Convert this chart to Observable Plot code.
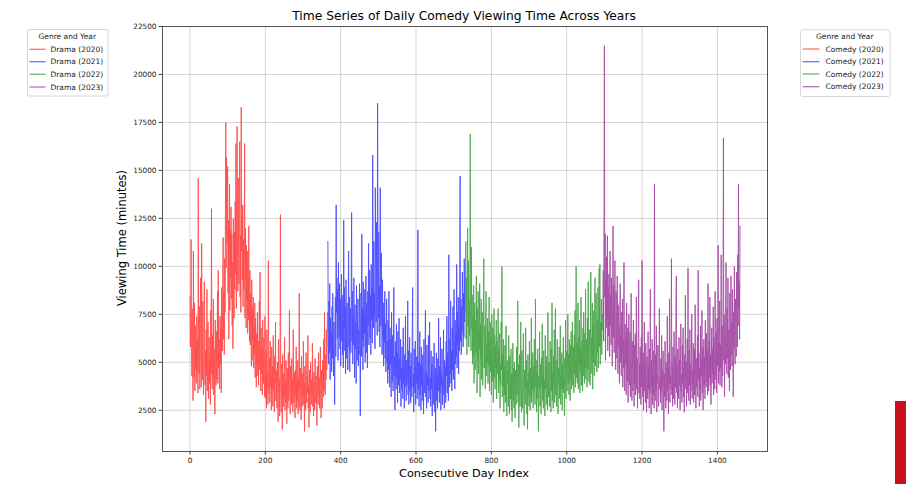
<!DOCTYPE html>
<html>
<head>
<meta charset="utf-8">
<script src="https://cdn.jsdelivr.net/npm/d3@7"></script>
<script src="https://cdn.jsdelivr.net/npm/@observablehq/plot@0.6"></script>
<style>
  body { margin: 0; background: #fff; font-family: "DejaVu Sans", sans-serif; }
  #wrap { position: relative; width: 906px; height: 484px; overflow: hidden; background: #fff; }
  #chart { position: absolute; left: 0; top: 0; }
  #overlay { position: absolute; left: 0; top: 0; pointer-events: none; }
  .t { position: absolute; white-space: nowrap; line-height: 1; color: #000; }
  #badge { position: absolute; left: 895px; top: 401px; width: 11px; height: 83px; background: #c9111e; }
</style>
</head>
<body>
<div id="wrap"></div>
<script>
// Daily viewing time (minutes), one array per year; day index continues across years.
const years = ["2020", "2021", "2022", "2023"];
const yearStart = [0, 366, 731, 1096];
// red, blue, green, purple drawn at 70% over white
const colors = ["#ff4d4d", "#4d4dff", "#4da64d", "#a64da6"];
const xTicks = [0, 200, 400, 600, 800, 1000, 1200, 1400];
const yTicks = [2500, 5000, 7500, 10000, 12500, 15000, 17500, 20000, 22500];

const v2020 = [
  8400, 5800, 7200, 11400, 5900, 4300, 7800, 5100, 3000, 10800,
  5600, 4200, 8100, 3500, 6900, 4700, 5800, 3900, 7400, 4600,
  6200, 3400, 14600, 5200, 4400, 7900, 3600, 6600, 9400, 4800,
  3700, 11200, 5300, 4100, 8200, 4500, 3300, 6100, 9200, 4900,
  3800, 5600, 1900, 6700, 4300, 8800, 3500, 5400, 7100, 3100,
  4700, 6300, 3900, 5200, 2800, 7700, 4400, 13000, 5100, 3600,
  6400, 4200, 8300, 3300, 5700, 4800, 2300, 7200, 5000, 3800,
  6600, 4100, 5300, 8700, 3900, 9800, 4700, 6200, 5200, 3600,
  7400, 4900, 6800, 3400, 8900, 6300, 5600, 9300, 11500, 6200,
  8700, 5400, 10400, 7600, 12800, 17500, 9900, 15700, 11200, 13900,
  15200, 8600, 12400, 6200, 10800, 14300, 7700, 11900, 9400, 13100,
  8300, 11700, 6900, 10200, 5700, 12500, 9100, 7300, 11800, 8800,
  13400, 9600, 16400, 7800, 12100, 17300, 10400, 8700, 14600, 11300,
  9100, 13800, 16500, 8400, 11600, 7600, 18300, 10800, 12700, 9300,
  13200, 7900, 11400, 8800, 10300, 16400, 7300, 12000, 9500, 6800,
  11100, 8200, 10800, 6500, 9400, 7200, 12100, 8300, 6100, 9800,
  5900, 8600, 7100, 4800, 9300, 6200, 7800, 5100, 8400, 4700,
  6900, 5400, 8100, 4200, 7300, 5800, 3700, 6500, 4900, 7600,
  4300, 6100, 3800, 5500, 8200, 4600, 9700, 5300, 3500, 6800,
  4400, 5700, 3300, 7200, 4900, 3900, 6300, 4100, 3200, 7400,
  4500, 3100, 5600, 2600, 6700, 3800, 4400, 2800, 10300, 4700,
  3400, 5200, 2900, 6100, 3700, 4300, 2500, 5800, 3600, 4800,
  2700, 6400, 3500, 4200, 2400, 5300, 3900, 7100, 3000, 4600,
  3300, 2600, 5000, 3800, 1900, 6200, 3400, 4100, 2200, 5600,
  12700, 3700, 2400, 4900, 3100, 1500, 5400, 3500, 2700, 4400,
  3200, 6300, 2500, 4000, 2900, 5100, 3600, 1800, 4700, 3300,
  2600, 5500, 3000, 4300, 7700, 3400, 2300, 4800, 3700, 2800,
  5200, 3100, 4100, 2400, 6700, 3500, 2900, 4500, 3300, 2100,
  4600, 3200, 5800, 2600, 3900, 3000, 5100, 2300, 4200, 3600,
  8600, 3100, 2500, 4700, 3400, 2000, 5300, 3800, 2700, 4400,
  3300, 6100, 2800, 3900, 1400, 4800, 3200, 2500, 5500, 3600,
  2900, 4300, 3400, 6400, 2600, 3800, 1600, 4600, 3100, 2400,
  5000, 3500, 2800, 4100, 3300, 6000, 2700, 3900, 2200, 4500,
  3400, 2500, 5200, 3700, 2900, 4300, 3100, 1700, 4800, 3600,
  2800, 5500, 3300, 4200, 2600, 3900, 5800, 3000, 2100, 4600,
  3700, 2600, 5100, 4000, 3200, 6200, 3500, 7600, 4300, 3300,
  5400, 4100, 6700, 4600, 5300, 7600
];

const v2021 = [
  11300, 6400, 4900, 8200, 5500, 9100, 4100, 7300, 5800, 6600,
  4500, 7900, 5200, 8600, 6100, 4300, 7100, 5600, 2800, 6900,
  8400, 5300, 13200, 7600, 9400, 6200, 8800, 5100, 10200, 7400,
  6300, 9100, 5700, 8300, 4800, 7700, 9600, 6100, 8500, 5400,
  7200, 4700, 12400, 6800, 8900, 5600, 7900, 4400, 9300, 6500,
  5200, 8100, 6300, 4600, 7600, 10800, 5800, 8400, 4500, 6900,
  7800, 5500, 9200, 12800, 6100, 8700, 4900, 7300, 5900, 9400,
  6400, 4200, 8000, 5700, 7100, 3900, 9000, 6600, 5100, 7500,
  8300, 4800, 6700, 5400, 9100, 7000, 2200, 6300, 8600, 5300,
  11700, 6200, 7800, 4600, 9200, 5800, 7400, 6500, 8800, 5000,
  7000, 9500, 5500, 8100, 6200, 4700, 8700, 6900, 11200, 5900,
  7700, 9800, 6300, 8500, 5400, 10100, 7200, 8900, 6000, 15800,
  9400, 6800, 11300, 7400, 8600, 5700, 14100, 10400, 7100, 12300,
  8200, 6400, 18500, 9700, 7300, 11800, 6600, 9000, 5800, 14100,
  8500, 6900, 10700, 7600, 5400, 9300, 6200, 8100, 4800, 7300,
  6000, 8700, 5200, 7000, 4500, 6600, 8300, 5000, 6100, 3900,
  7200, 4600, 8700, 5500, 3700, 6800, 4900, 6200, 3200, 7600,
  5100, 4000, 6400, 3500, 5800, 8900, 4300, 5300, 2500, 6100,
  4700, 3600, 7000, 4200, 5500, 2900, 6600, 3800, 4900, 7300,
  3400, 5200, 4100, 6200, 2700, 4700, 3600, 5800, 4400, 3100,
  6800, 3900, 4600, 2600, 5400, 3700, 7400, 4300, 3000, 5100,
  3800, 4500, 8200, 3300, 5600, 2800, 4200, 6300, 3500, 4800,
  2900, 5500, 4000, 3200, 6500, 8900, 3700, 4400, 2400, 5700,
  4100, 3400, 6100, 2800, 4700, 3900, 5300, 3100, 4400, 11900,
  3600, 5000, 2700, 4300, 6600, 3300, 4900, 2500, 5800, 3800,
  4600, 3000, 5400, 3700, 2300, 6200, 4000, 3400, 5100, 7700,
  3200, 4500, 2600, 5900, 3800, 4300, 2900, 6400, 3500, 4800,
  7100, 3100, 4200, 2700, 5600, 3600, 4900, 2200, 4100, 5300,
  3300, 2800, 6000, 3900, 2400, 4700, 1400, 3700, 5500, 3000,
  4400, 2600, 5200, 3500, 7300, 4100, 2900, 4800, 3400, 6300,
  2500, 4500, 3800, 5700, 2800, 4200, 3300, 6700, 3900, 2600,
  5100, 3600, 4800, 2900, 6100, 4300, 7400, 3400, 5500, 4000,
  3000, 10600, 4700, 3700, 6200, 4400, 8200, 3900, 5600, 3500,
  6800, 4600, 7900, 4100, 5800, 8800, 5100, 3600, 7200, 4900,
  6500, 5300, 10100, 4700, 7600, 5900, 8400, 4400, 6900, 5600,
  9100, 14700, 6100, 8300, 5400, 7900, 6600, 9700, 7700, 5800,
  8600, 6300, 10400, 7100, 9300
];

const v2022 = [
  7600, 11300, 6200, 9400, 5400, 8800, 12000, 6900, 10300, 5800,
  8200, 6400, 9700, 16900, 7300, 5600, 11000, 6700, 8500, 4900,
  7400, 5300, 9000, 3900, 6800, 8100, 4600, 7200, 5500, 9500,
  6100, 3400, 7800, 5100, 8700, 4400, 6600, 5700, 9100, 3200,
  7000, 5200, 8300, 4100, 6300, 7600, 3800, 5900, 8000, 10400,
  4700, 6900, 5400, 3600, 7700, 8700, 4300, 6000, 5000, 7300,
  3900, 6600, 4800, 8400, 3500, 5800, 7100, 4500, 6200, 3300,
  7500, 5300, 4000, 6800, 2900, 5600, 7800, 4200, 6400, 3600,
  5900, 4700, 7200, 3100, 6100, 4400, 5200, 7800, 3400, 5700,
  4100, 6500, 2600, 4900, 3800, 7100, 4600, 10000, 3200, 5400,
  3700, 6200, 2400, 4800, 3300, 5900, 2900, 4300, 6900, 3500,
  2200, 5100, 3900, 4500, 2700, 6400, 3600, 2300, 5300, 4000,
  3100, 5700, 2500, 4400, 1900, 3800, 6000, 3000, 4700, 2600,
  5000, 3400, 2100, 4600, 3700, 2800, 5800, 3300, 4200, 8200,
  2900, 4900, 1600, 3600, 5400, 2700, 4100, 7100, 3200, 2400,
  5600, 3800, 2600, 4400, 6500, 3000, 1700, 4600, 3500, 2800,
  6800, 3700, 5100, 2300, 4000, 1500, 5400, 3300, 4500, 2700,
  6100, 3900, 2500, 4700, 3200, 7300, 2900, 4200, 3600, 5500,
  2600, 4800, 3400, 6200, 4000, 2800, 8300, 3700, 5100, 2400,
  4500, 3100, 5700, 2900, 1400, 4300, 3600, 6600, 2700, 4900,
  3500, 2300, 5200, 3800, 7000, 3000, 4400, 2600, 5600, 3400,
  4100, 2200, 6400, 3600, 4800, 2800, 5300, 3900, 2500, 7600,
  4600, 3200, 5000, 2700, 3700, 6100, 4200, 2400, 5700, 3500,
  8100, 3000, 4500, 2600, 5300, 3800, 6700, 2900, 4400, 7800,
  3300, 5100, 2700, 4000, 6200, 3500, 2300, 4700, 3900, 5800,
  3100, 4600, 6900, 2800, 4300, 3600, 5500, 2500, 4900, 3700,
  6300, 3400, 4200, 2200, 5200, 3800, 7200, 3100, 4600, 5600,
  3500, 4800, 7500, 3900, 5400, 3300, 6200, 4300, 3000, 5900,
  4100, 6600, 3600, 5000, 7100, 3800, 4700, 5800, 3400, 6400,
  4400, 7700, 3700, 5300, 10000, 4200, 6000, 3900, 5500, 8100,
  3600, 6300, 4800, 7200, 3400, 5700, 4500, 8400, 3800, 6100,
  4900, 3500, 6800, 4300, 7600, 5200, 3900, 6500, 4700, 8800,
  4100, 6200, 5400, 3700, 7300, 4600, 9200, 5100, 4000, 6700,
  5600, 3800, 7000, 9700, 4400, 6300, 5200, 8100, 3600, 6900,
  5000, 7700, 4300, 6400, 9400, 5300, 4800, 8600, 6000, 4500,
  7200, 5500, 8900, 4700, 6600, 9900, 5800, 10100, 4900, 7100,
  6000, 8300, 5400, 7500, 6700
];

const v2023 = [
  7300, 9800, 6100, 12600, 21500, 8400, 11700, 5100, 9300, 6800,
  10500, 7200, 11600, 5600, 8900, 6400, 9600, 7700, 5300, 10800,
  6900, 8500, 5900, 9400, 7100, 4800, 8200, 12100, 6300, 9000,
  5500, 7800, 10300, 6000, 4600, 8700, 6600, 5200, 9500, 7000,
  4400, 8000, 5800, 6900, 3900, 7400, 9100, 5000, 6400, 4300,
  7600, 5400, 8300, 3700, 6200, 4700, 10200, 5700, 3500, 7000,
  4900, 6300, 3300, 8100, 5200, 4000, 6800, 2900, 5500, 7500,
  3800, 4600, 6600, 3200, 5300, 8600, 4200, 3000, 6100, 4800,
  3500, 7200, 4400, 2700, 5900, 3900, 6500, 3300, 4700, 8400,
  3600, 5200, 2600, 4500, 6700, 9300, 3400, 4900, 3100, 5800,
  4100, 2800, 6300, 3700, 10300, 4400, 3200, 5500, 2500, 4600,
  7100, 3500, 4900, 2900, 6000, 3800, 2400, 5300, 4200, 3100,
  6600, 3600, 4800, 2600, 5700, 3400, 8800, 4100, 2300, 5100,
  3700, 6200, 2800, 4500, 3300, 5600, 2600, 14300, 4000, 3000,
  5400, 3500, 6900, 2400, 4300, 3900, 5900, 3100, 2700, 4800,
  7800, 3600, 4200, 2900, 5200, 3400, 6400, 2500, 4600, 3800,
  5600, 2800, 1400, 4400, 3200, 6100, 3700, 2600, 5000, 4100,
  3000, 7400, 3500, 4700, 2300, 5500, 3900, 8300, 2900, 4300,
  3600, 6000, 10400, 3300, 4900, 2700, 5800, 4000, 3100, 6600,
  4500, 2800, 5300, 3700, 7600, 9500, 3400, 4800, 2600, 5700,
  4200, 3100, 6300, 3800, 5100, 2500, 4600, 7000, 3500, 4400,
  2900, 5900, 3900, 6800, 3200, 4700, 2400, 5400, 4100, 8500,
  3600, 5000, 2700, 4500, 6200, 3400, 9900, 4300, 3000, 5600,
  3800, 6700, 2800, 4900, 3500, 5300, 7500, 3100, 4600, 3900,
  6000, 2900, 4400, 5700, 3300, 8000, 4200, 2600, 5200, 3700,
  4800, 6400, 3200, 9800, 4100, 5500, 2700, 4700, 3600, 6900,
  3000, 5100, 4300, 7700, 3400, 5800, 2500, 4600, 6200, 3800,
  5300, 3100, 7200, 4500, 3700, 6500, 4000, 5600, 3300, 9100,
  4700, 3500, 6100, 4200, 8400, 3800, 5400, 2800, 4900, 6800,
  3900, 5700, 4400, 7900, 3300, 6300, 4600, 3600, 8700, 5000,
  4100, 6600, 3400, 7300, 4800, 5500, 11100, 3900, 6000, 4500,
  8200, 3800, 5900, 4700, 10600, 5300, 3700, 6900, 4300, 9000,
  16700, 5100, 7500, 3200, 6400, 4900, 8100, 10200, 5600, 4400,
  7800, 5200, 9400, 4200, 6700, 5800, 3500, 8600, 6100, 4600,
  9500, 5400, 7100, 4800, 8800, 6300, 3200, 7600, 5700, 10000,
  6400, 4900, 8300, 6800, 5300, 9700, 7300, 5800, 10600, 6900,
  14300, 7800, 9200, 6200, 12100
];

const series = [v2020, v2021, v2022, v2023];

// Long table: one row per day, tagged with its year
const rows = [];
series.forEach((vals, k) => {
  vals.forEach((v, i) => rows.push({ day: yearStart[k] + i, value: v, year: years[k] }));
});

const chart = Plot.plot({
  width: 906,
  height: 484,
  marginLeft: 162,
  marginRight: 139,
  marginTop: 26,
  marginBottom: 33,
  style: { fontFamily: "DejaVu Sans, sans-serif", fontSize: "7.3px", background: "transparent", color: "#222" },
  x: { domain: [-73, 1533], label: null },
  y: { domain: [350, 22500], label: null },
  marks: [
    Plot.gridX(xTicks, { stroke: "#b0b0b0", strokeOpacity: 0.55, strokeWidth: 1 }),
    Plot.gridY(yTicks, { stroke: "#b0b0b0", strokeOpacity: 0.55, strokeWidth: 1 }),
    ...years.map((yr, k) =>
      Plot.lineY(rows.filter(r => r.year === yr), {
        x: "day", y: "value", stroke: colors[k], strokeWidth: 0.9
      })
    ),
    Plot.frame({ stroke: "#555", strokeWidth: 1 }),
    Plot.axisX(xTicks, { tickSize: 3.5, tickPadding: 3, tickFormat: d => String(d), label: null, stroke: "#444" }),
    Plot.axisY(yTicks, { tickSize: 3.5, tickPadding: 2.5, tickFormat: d => String(d), label: null, stroke: "#444" })
  ]
});
chart.id = "chart";

const wrap = document.getElementById("wrap");
wrap.appendChild(chart);

function addText(txt, x, y, size, extra) {
  const el = document.createElement("div");
  el.className = "t";
  el.textContent = txt;
  el.style.left = x + "px";
  el.style.top = y + "px";
  el.style.fontSize = size + "px";
  el.style.transform = "translate(-50%, -50%)" + (extra || "");
  wrap.appendChild(el);
}

addText("Time Series of Daily Comedy Viewing Time Across Years", 464, 15.5, 12.3);
addText("Consecutive Day Index", 464, 474, 11.3);
addText("Viewing Time (minutes)", 123, 238, 11.5, " rotate(-90deg)");

// Legend boxes: Drama on the left, Comedy on the right
const svgNS = "http://www.w3.org/2000/svg";
const overlay = document.createElementNS(svgNS, "svg");
overlay.setAttribute("id", "overlay");
overlay.setAttribute("width", 906);
overlay.setAttribute("height", 484);
overlay.style.fontFamily = "DejaVu Sans, sans-serif";
wrap.appendChild(overlay);

function svgEl(tag, attrs, text) {
  const e = document.createElementNS(svgNS, tag);
  for (const k in attrs) e.setAttribute(k, attrs[k]);
  if (text != null) e.textContent = text;
  overlay.appendChild(e);
  return e;
}

function addLegend(genre, box, lineX0, lineX1, textX, rowsY, titleY) {
  svgEl("rect", { x: box[0] + 0.5, y: box[1] + 0.5, width: box[2] - box[0], height: box[3] - box[1],
    rx: 2, fill: "#fff", "fill-opacity": 0.85, stroke: "#d6d6d6", "stroke-width": 1 });
  svgEl("text", { x: (box[0] + box[2]) / 2, y: titleY, "text-anchor": "middle", "dominant-baseline": "central",
    "font-size": 7.5, fill: "#222" }, "Genre and Year");
  years.forEach((yr, k) => {
    svgEl("line", { x1: lineX0, x2: lineX1, y1: rowsY[k], y2: rowsY[k], stroke: colors[k], "stroke-width": 1.3, "stroke-opacity": 0.8 });
    svgEl("text", { x: textX, y: rowsY[k], "dominant-baseline": "central", "font-size": 7.5, fill: "#222" },
      genre + " (" + yr + ")");
  });
}

addLegend("Drama", [27, 29, 107.5, 95.5], 29.5, 45.5, 50.5, [49.3, 61.7, 74.3, 87], 36);
addLegend("Comedy", [800, 29.3, 889.5, 96], 802.7, 819.3, 825.5, [49, 61.7, 74, 86.7], 36.2);

const badge = document.createElement("div");
badge.id = "badge";
wrap.appendChild(badge);
</script>
</body>
</html>
